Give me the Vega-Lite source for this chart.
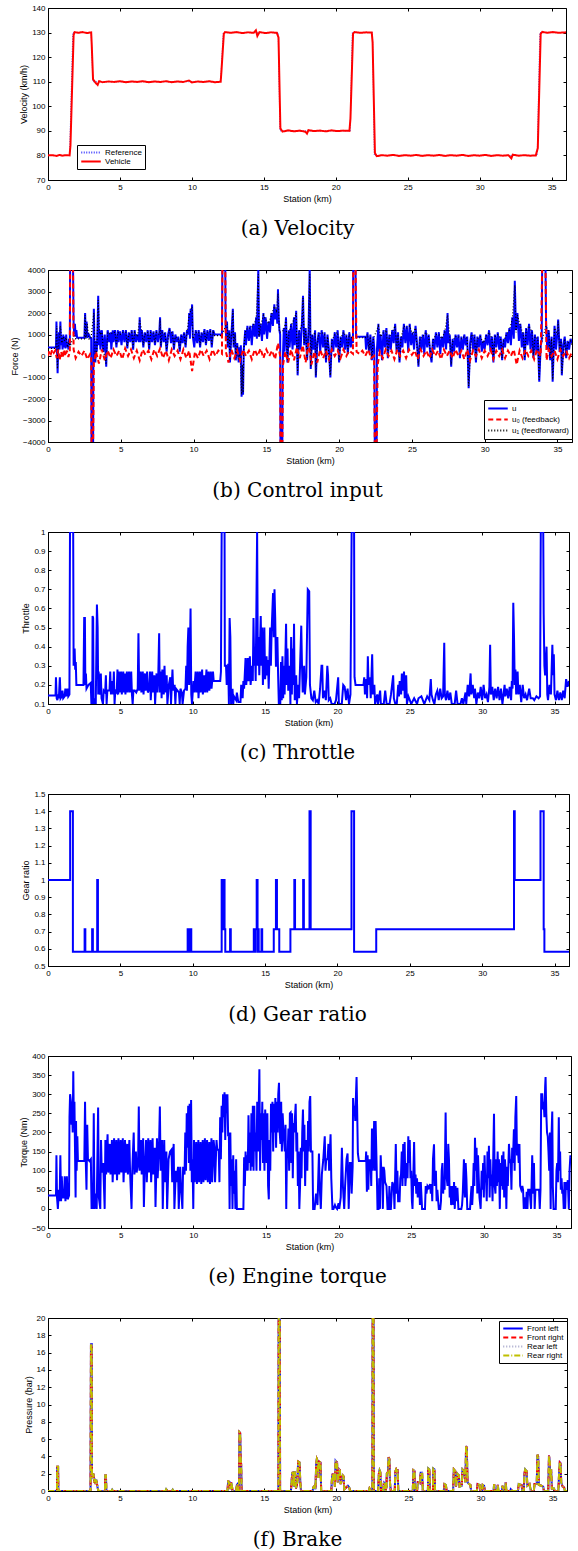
{
"$schema": "https://vega.github.io/schema/vega-lite/v6.json",
"background": "white",
"padding": {"left": 10, "top": 3, "right": 0, "bottom": 0},
"columns": 1,
"spacing": 25,
"resolve": {"scale": {"color": "independent", "strokeDash": "independent"}},
"config": {
  "view": {"stroke": "black", "strokeWidth": 1},
  "axis": {"grid": false, "labelFont": "Liberation Sans", "labelFontSize": 8, "labelColor": "black", "titleFont": "Liberation Sans", "titleFontSize": 9, "titleFontWeight": "normal", "titleColor": "black", "tickColor": "black", "tickSize": -3, "tickWidth": 1, "domainColor": "black", "domainWidth": 1, "labelPadding": 6, "titlePadding": 3, "labelFlush": false, "labelOverlap": false, "labelBound": false},
  "legend": {"orient": "none", "fillColor": "white", "strokeColor": "black", "padding": 3, "labelFont": "Liberation Sans", "labelFontSize": 8, "labelColor": "black", "symbolType": "stroke", "symbolSize": 380, "symbolStrokeWidth": 1.8, "rowPadding": 0, "labelOffset": 3, "clipHeight": 9},
  "title": {"orient": "bottom", "anchor": "middle", "font": "DejaVu Serif", "fontSize": 20, "fontWeight": "normal", "color": "black", "offset": 16, "frame": "group"}
},
"concat": [
{
 "width": 518, "height": 172,
 "title": {"text": "(a) Velocity", "orient": "bottom", "dx": -9.5},
 "layer": [
  {"data": {"name": "vref"}, "mark": {"type": "line", "opacity": 0},
   "encoding": {
    "x": {"field": "s", "type": "quantitative", "scale": {"domain": [0,36], "nice": false, "zero": false}, "axis": {"orient": "top", "labels": false, "title": null, "domain": false, "values": [0,5,10,15,20,25,30,35]}},
    "y": {"field": "v", "type": "quantitative", "scale": {"domain": [70,140], "nice": false, "zero": false}, "axis": {"orient": "right", "labels": false, "title": null, "domain": false, "values": [70,80,90,100,110,120,130,140]}}}},
  {"data": {"name": "vref"}, "mark": {"type": "line", "strokeWidth": 1, "clip": true},
   "encoding": {
    "x": {"field": "s", "type": "quantitative", "scale": {"domain": [0,36], "nice": false, "zero": false}, "axis": {"orient": "bottom", "title": "Station (km)", "values": [0,5,10,15,20,25,30,35]}},
    "y": {"field": "v", "type": "quantitative", "scale": {"domain": [70,140], "nice": false, "zero": false}, "axis": {"orient": "left", "title": "Velocity (km/h)", "format": "~f", "values": [70,80,90,100,110,120,130,140]}},
    "color": {"datum": "Reference", "type": "nominal", "scale": {"domain": ["Reference","Vehicle"], "range": ["#3b3bff","#ff0000"]}, "legend": {"title": null, "legendX": 29, "legendY": 137}},
    "strokeDash": {"datum": "Reference", "type": "nominal", "scale": {"domain": ["Reference","Vehicle"], "range": [[1,1.5],[1,0]]}, "legend": {"title": null, "legendX": 29, "legendY": 137}}}},
  {"data": {"name": "veh"}, "mark": {"type": "line", "strokeWidth": 2, "clip": true},
   "encoding": {
    "x": {"field": "s", "type": "quantitative", "scale": {"domain": [0,36], "nice": false, "zero": false}, "axis": null},
    "y": {"field": "v", "type": "quantitative", "scale": {"domain": [70,140], "nice": false, "zero": false}, "axis": null},
    "color": {"datum": "Vehicle", "type": "nominal"},
    "strokeDash": {"datum": "Vehicle", "type": "nominal"}}}
 ],
 "resolve": {"axis": {"x": "independent", "y": "independent"}}
},
{
 "width": 524, "height": 172,
 "title": {"text": "(b) Control input", "orient": "bottom", "dx": -12.5},
 "layer": [
  {"data": {"name": "u"}, "mark": {"type": "line", "opacity": 0},
   "encoding": {
    "x": {"field": "s", "type": "quantitative", "scale": {"domain": [0,36], "nice": false, "zero": false}, "axis": {"orient": "top", "labels": false, "title": null, "domain": false, "values": [0,5,10,15,20,25,30,35]}},
    "y": {"field": "v", "type": "quantitative", "scale": {"domain": [-4000,4000], "nice": false, "zero": false}, "axis": {"orient": "right", "labels": false, "title": null, "domain": false, "values": [-4000,-3000,-2000,-1000,0,1000,2000,3000,4000]}}}},
  {"data": {"name": "u"}, "mark": {"type": "line", "strokeWidth": 2, "clip": true},
   "encoding": {
    "x": {"field": "s", "type": "quantitative", "scale": {"domain": [0,36], "nice": false, "zero": false}, "axis": {"orient": "bottom", "title": "Station (km)", "values": [0,5,10,15,20,25,30,35]}},
    "y": {"field": "v", "type": "quantitative", "scale": {"domain": [-4000,4000], "nice": false, "zero": false}, "axis": {"orient": "left", "title": "Force (N)", "format": "~f", "values": [-4000,-3000,-2000,-1000,0,1000,2000,3000,4000]}},
    "color": {"datum": "u", "type": "nominal", "scale": {"domain": ["u","u₀ (feedback)","u₁ (feedforward)"], "range": ["#0000ff","#ff0000","#000000"]}, "legend": {"title": null, "legendX": 436, "legendY": 130, "clipHeight": 11}},
    "strokeDash": {"datum": "u", "type": "nominal", "scale": {"domain": ["u","u₀ (feedback)","u₁ (feedforward)"], "range": [[1,0],[5,3],[1,2]]}, "legend": {"title": null, "legendX": 436, "legendY": 130, "clipHeight": 11}}}},
  {"data": {"name": "u1"}, "mark": {"type": "line", "strokeWidth": 1.2, "clip": true},
   "encoding": {
    "x": {"field": "s", "type": "quantitative", "scale": {"domain": [0,36], "nice": false, "zero": false}, "axis": null},
    "y": {"field": "v", "type": "quantitative", "scale": {"domain": [-4000,4000], "nice": false, "zero": false}, "axis": null},
    "color": {"datum": "u₁ (feedforward)", "type": "nominal"},
    "strokeDash": {"datum": "u₁ (feedforward)", "type": "nominal"}}},
  {"data": {"name": "u0"}, "mark": {"type": "line", "strokeWidth": 2, "clip": true},
   "encoding": {
    "x": {"field": "s", "type": "quantitative", "scale": {"domain": [0,36], "nice": false, "zero": false}, "axis": null},
    "y": {"field": "v", "type": "quantitative", "scale": {"domain": [-4000,4000], "nice": false, "zero": false}, "axis": null},
    "color": {"datum": "u₀ (feedback)", "type": "nominal"},
    "strokeDash": {"datum": "u₀ (feedback)", "type": "nominal"}}}
 ],
 "resolve": {"axis": {"x": "independent", "y": "independent"}}
},
{
 "width": 521, "height": 172,
 "title": {"text": "(c) Throttle", "orient": "bottom", "dx": -11},
 "layer": [
  {"data": {"name": "thr"}, "mark": {"type": "line", "opacity": 0},
   "encoding": {
    "x": {"field": "s", "type": "quantitative", "scale": {"domain": [0,36], "nice": false, "zero": false}, "axis": {"orient": "top", "labels": false, "title": null, "domain": false, "values": [0,5,10,15,20,25,30,35]}},
    "y": {"field": "v", "type": "quantitative", "scale": {"domain": [0.1,1], "nice": false, "zero": false}, "axis": {"orient": "right", "labels": false, "title": null, "domain": false, "values": [0.1,0.2,0.3,0.4,0.5,0.6,0.7,0.8,0.9,1]}}}},
  {"data": {"name": "thr"}, "mark": {"type": "line", "strokeWidth": 2, "color": "#0000ff", "clip": true},
   "encoding": {
    "x": {"field": "s", "type": "quantitative", "scale": {"domain": [0,36], "nice": false, "zero": false}, "axis": {"orient": "bottom", "title": "Station (km)", "values": [0,5,10,15,20,25,30,35]}},
    "y": {"field": "v", "type": "quantitative", "scale": {"domain": [0.1,1], "nice": false, "zero": false}, "axis": {"orient": "left", "title": "Throttle", "format": "~f", "values": [0.1,0.2,0.3,0.4,0.5,0.6,0.7,0.8,0.9,1]}}}}
 ],
 "resolve": {"axis": {"x": "independent", "y": "independent"}}
},
{
 "width": 521, "height": 172,
 "title": {"text": "(d) Gear ratio", "orient": "bottom", "dx": -11},
 "layer": [
  {"data": {"name": "gear"}, "mark": {"type": "line", "opacity": 0},
   "encoding": {
    "x": {"field": "s", "type": "quantitative", "scale": {"domain": [0,36], "nice": false, "zero": false}, "axis": {"orient": "top", "labels": false, "title": null, "domain": false, "values": [0,5,10,15,20,25,30,35]}},
    "y": {"field": "v", "type": "quantitative", "scale": {"domain": [0.5,1.5], "nice": false, "zero": false}, "axis": {"orient": "right", "labels": false, "title": null, "domain": false, "values": [0.5,0.6,0.7,0.8,0.9,1,1.1,1.2,1.3,1.4,1.5]}}}},
  {"data": {"name": "gear"}, "mark": {"type": "line", "strokeWidth": 2, "color": "#0000ff", "interpolate": "step-after", "clip": true},
   "encoding": {
    "x": {"field": "s", "type": "quantitative", "scale": {"domain": [0,36], "nice": false, "zero": false}, "axis": {"orient": "bottom", "title": "Station (km)", "values": [0,5,10,15,20,25,30,35]}},
    "y": {"field": "v", "type": "quantitative", "scale": {"domain": [0.5,1.5], "nice": false, "zero": false}, "axis": {"orient": "left", "title": "Gear ratio", "format": "~f", "values": [0.5,0.6,0.7,0.8,0.9,1,1.1,1.2,1.3,1.4,1.5]}}}}
 ],
 "resolve": {"axis": {"x": "independent", "y": "independent"}}
},
{
 "width": 523, "height": 172,
 "title": {"text": "(e) Engine torque", "orient": "bottom", "dx": -12},
 "layer": [
  {"data": {"name": "tq"}, "mark": {"type": "line", "opacity": 0},
   "encoding": {
    "x": {"field": "s", "type": "quantitative", "scale": {"domain": [0,36], "nice": false, "zero": false}, "axis": {"orient": "top", "labels": false, "title": null, "domain": false, "values": [0,5,10,15,20,25,30,35]}},
    "y": {"field": "v", "type": "quantitative", "scale": {"domain": [-50,400], "nice": false, "zero": false}, "axis": {"orient": "right", "labels": false, "title": null, "domain": false, "values": [-50,0,50,100,150,200,250,300,350,400]}}}},
  {"data": {"name": "tq"}, "mark": {"type": "line", "strokeWidth": 2, "color": "#0000ff", "clip": true},
   "encoding": {
    "x": {"field": "s", "type": "quantitative", "scale": {"domain": [0,36], "nice": false, "zero": false}, "axis": {"orient": "bottom", "title": "Station (km)", "values": [0,5,10,15,20,25,30,35]}},
    "y": {"field": "v", "type": "quantitative", "scale": {"domain": [-50,400], "nice": false, "zero": false}, "axis": {"orient": "left", "title": "Torque (Nm)", "format": "~f", "values": [-50,0,50,100,150,200,250,300,350,400]}}}}
 ],
 "resolve": {"axis": {"x": "independent", "y": "independent"}}
},
{
 "width": 519, "height": 173,
 "title": {"text": "(f) Brake", "orient": "bottom", "dx": -10},
 "layer": [
  {"data": {"name": "brk"}, "mark": {"type": "line", "opacity": 0},
   "encoding": {
    "x": {"field": "s", "type": "quantitative", "scale": {"domain": [0,36], "nice": false, "zero": false}, "axis": {"orient": "top", "labels": false, "title": null, "domain": false, "values": [0,5,10,15,20,25,30,35]}},
    "y": {"field": "v", "type": "quantitative", "scale": {"domain": [0,20], "nice": false, "zero": false}, "axis": {"orient": "right", "labels": false, "title": null, "domain": false, "values": [0,2,4,6,8,10,12,14,16,18,20]}}}},
  {"data": {"name": "brk"}, "mark": {"type": "line", "strokeWidth": 2, "clip": true},
   "encoding": {
    "x": {"field": "s", "type": "quantitative", "scale": {"domain": [0,36], "nice": false, "zero": false}, "axis": {"orient": "bottom", "title": "Station (km)", "values": [0,5,10,15,20,25,30,35]}},
    "y": {"field": "v", "type": "quantitative", "scale": {"domain": [0,20], "nice": false, "zero": false}, "axis": {"orient": "left", "title": "Pressure (bar)", "format": "~f", "values": [0,2,4,6,8,10,12,14,16,18,20]}},
    "color": {"datum": "Front left", "type": "nominal", "scale": {"domain": ["Front left","Front right","Rear left","Rear right"], "range": ["#0000ff","#ff0000","#a3a3c8","#bfbf00"]}, "legend": {"title": null, "legendX": 451, "legendY": 3}},
    "strokeDash": {"datum": "Front left", "type": "nominal", "scale": {"domain": ["Front left","Front right","Rear left","Rear right"], "range": [[1,0],[5,3],[1,2],[6,2,1,2]]}, "legend": {"title": null, "legendX": 451, "legendY": 3}}}},
  {"data": {"name": "brk"}, "mark": {"type": "line", "strokeWidth": 2, "clip": true},
   "encoding": {
    "x": {"field": "s", "type": "quantitative", "scale": {"domain": [0,36], "nice": false, "zero": false}, "axis": null},
    "y": {"field": "v", "type": "quantitative", "scale": {"domain": [0,20], "nice": false, "zero": false}, "axis": null},
    "color": {"datum": "Front right", "type": "nominal"},
    "strokeDash": {"datum": "Front right", "type": "nominal"}}},
  {"data": {"name": "brk"}, "mark": {"type": "line", "strokeWidth": 1.5, "clip": true},
   "encoding": {
    "x": {"field": "s", "type": "quantitative", "scale": {"domain": [0,36], "nice": false, "zero": false}, "axis": null},
    "y": {"field": "v", "type": "quantitative", "scale": {"domain": [0,20], "nice": false, "zero": false}, "axis": null},
    "color": {"datum": "Rear left", "type": "nominal"},
    "strokeDash": {"datum": "Rear left", "type": "nominal"}}},
  {"data": {"name": "brk"}, "mark": {"type": "line", "strokeWidth": 2, "clip": true},
   "encoding": {
    "x": {"field": "s", "type": "quantitative", "scale": {"domain": [0,36], "nice": false, "zero": false}, "axis": null},
    "y": {"field": "v", "type": "quantitative", "scale": {"domain": [0,20], "nice": false, "zero": false}, "axis": null},
    "color": {"datum": "Rear right", "type": "nominal"},
    "strokeDash": {"datum": "Rear right", "type": "nominal"}}}
 ],
 "resolve": {"axis": {"x": "independent", "y": "independent"}}
}
],
"datasets": {
"vref": [{"s":0,"v":80},{"s":1.5,"v":80},{"s":1.72,"v":130},{"s":3.0,"v":130},{"s":3.12,"v":110},{"s":12.0,"v":110},{"s":12.18,"v":130},{"s":16.0,"v":130},{"s":16.12,"v":90},{"s":21.0,"v":90},{"s":21.15,"v":130},{"s":22.55,"v":130},{"s":22.68,"v":80},{"s":34.0,"v":80},{"s":34.18,"v":130},{"s":36,"v":130}],
"veh": [{"s":0,"v":80},{"s":0.3,"v":80.1},{"s":0.6,"v":79.8},{"s":0.8,"v":80.2},{"s":1.0,"v":79.9},{"s":1.2,"v":80.1},{"s":1.5,"v":80},{"s":1.56,"v":84},{"s":1.78,"v":129},{"s":1.85,"v":130.2},{"s":2.1,"v":129.9},{"s":2.4,"v":130.2},{"s":2.7,"v":129.8},{"s":3.0,"v":130.1},{"s":3.04,"v":125},{"s":3.13,"v":111},{"s":3.3,"v":109.6},{"s":3.45,"v":108.7},{"s":3.55,"v":110.2},{"s":3.8,"v":109.8},{"s":4.2,"v":110.1},{"s":4.6,"v":109.9},{"s":5.0,"v":110.2},{"s":5.4,"v":109.8},{"s":5.8,"v":110.1},{"s":6.2,"v":109.9},{"s":6.6,"v":110.2},{"s":7.0,"v":109.8},{"s":7.4,"v":110.1},{"s":7.8,"v":109.9},{"s":8.2,"v":110.2},{"s":8.6,"v":109.8},{"s":9.0,"v":110.1},{"s":9.4,"v":109.9},{"s":9.8,"v":110.5},{"s":10.0,"v":109.7},{"s":10.4,"v":110.1},{"s":10.8,"v":109.9},{"s":11.2,"v":110.2},{"s":11.6,"v":109.8},{"s":12.0,"v":110},{"s":12.05,"v":114},{"s":12.22,"v":129.5},{"s":12.3,"v":130.2},{"s":12.7,"v":129.9},{"s":13.1,"v":130.2},{"s":13.5,"v":129.8},{"s":13.9,"v":130.1},{"s":14.3,"v":129.9},{"s":14.45,"v":130.9},{"s":14.55,"v":128.6},{"s":14.7,"v":130.2},{"s":15.1,"v":129.8},{"s":15.5,"v":130.1},{"s":15.9,"v":129.9},{"s":16.02,"v":128},{"s":16.15,"v":91},{"s":16.3,"v":89.7},{"s":16.7,"v":90.2},{"s":17.1,"v":89.8},{"s":17.5,"v":90.1},{"s":17.9,"v":89.6},{"s":18.0,"v":88.9},{"s":18.1,"v":90.3},{"s":18.5,"v":89.9},{"s":18.9,"v":90.1},{"s":19.3,"v":89.8},{"s":19.7,"v":90.2},{"s":20.1,"v":89.9},{"s":20.5,"v":90.1},{"s":20.95,"v":90},{"s":21.02,"v":95},{"s":21.2,"v":129.6},{"s":21.3,"v":130.2},{"s":21.7,"v":129.9},{"s":22.1,"v":130.1},{"s":22.5,"v":130},{"s":22.56,"v":126},{"s":22.72,"v":81},{"s":22.85,"v":79.7},{"s":23.2,"v":80.1},{"s":23.6,"v":79.9},{"s":24.0,"v":80.2},{"s":24.4,"v":79.8},{"s":24.8,"v":80.1},{"s":25.2,"v":79.9},{"s":25.6,"v":80.2},{"s":26.0,"v":79.8},{"s":26.4,"v":80.1},{"s":26.8,"v":79.9},{"s":27.2,"v":80.2},{"s":27.6,"v":79.8},{"s":28.0,"v":80.1},{"s":28.4,"v":79.9},{"s":28.8,"v":80.2},{"s":29.2,"v":79.8},{"s":29.6,"v":80.1},{"s":30.0,"v":79.9},{"s":30.4,"v":80.2},{"s":30.8,"v":79.8},{"s":31.2,"v":80.1},{"s":31.6,"v":79.9},{"s":32.0,"v":80.1},{"s":32.2,"v":78.8},{"s":32.3,"v":80.3},{"s":32.7,"v":79.9},{"s":33.1,"v":80.1},{"s":33.5,"v":79.9},{"s":33.9,"v":80},{"s":34.04,"v":83},{"s":34.24,"v":129.5},{"s":34.35,"v":130.3},{"s":34.7,"v":129.9},{"s":35.1,"v":130.2},{"s":35.5,"v":129.9},{"s":36,"v":130.1}],
"u": [{"s":0,"v":400},{"s":0.55,"v":400},{"s":0.58,"v":1600},{"s":0.62,"v":300},{"s":0.66,"v":-800},{"s":0.7,"v":400},{"s":0.75,"v":1100},{"s":0.8,"v":300},{"s":0.85,"v":1600},{"s":0.9,"v":500},{"s":0.95,"v":900},{"s":1.0,"v":300},{"s":1.05,"v":1000},{"s":1.1,"v":400},{"s":1.15,"v":900},{"s":1.2,"v":350},{"s":1.25,"v":1000},{"s":1.3,"v":400},{"s":1.35,"v":600},{"s":1.4,"v":300},{"s":1.45,"v":800},{"s":1.5,"v":500},{"s":1.52,"v":4150},{"s":1.72,"v":4150},{"s":1.76,"v":1500},{"s":1.8,"v":1000},{"s":1.85,"v":1500},{"s":1.9,"v":900},{"s":1.95,"v":1200},{"s":2.0,"v":850},{"s":2.5,"v":850},{"s":2.55,"v":2000},{"s":2.6,"v":850},{"s":2.65,"v":1600},{"s":2.7,"v":850},{"s":2.8,"v":1000},{"s":2.9,"v":850},{"s":2.97,"v":800},{"s":2.99,"v":-4150},{"s":3.1,"v":-4150},{"s":3.12,"v":200},{"s":3.15,"v":2200},{"s":3.2,"v":300},{"s":3.25,"v":-300},{"s":3.3,"v":700},{"s":3.35,"v":200},{"s":3.4,"v":1200},{"s":3.45,"v":2800},{"s":3.5,"v":500},{"s":3.55,"v":1200},{"s":3.6,"v":300},{"s":3.7,"v":1200},{"s":3.75,"v":600},{"s":3.8,"v":200},{"s":3.9,"v":1000},{"s":4.0,"v":-500},{"s":4.05,"v":700},{"s":4.1,"v":1200},{"s":4.2,"v":650},{"s":4.3,"v":1100},{"s":4.35,"v":300},{"s":4.45,"v":1200},{"s":4.5,"v":650},{"s":4.6,"v":1200},{"s":4.7,"v":400},{"s":4.8,"v":1200},{"s":4.85,"v":650},{"s":4.95,"v":1150},{"s":5.05,"v":500},{"s":5.15,"v":1200},{"s":5.25,"v":650},{"s":5.35,"v":1200},{"s":5.45,"v":350},{"s":5.55,"v":1100},{"s":5.65,"v":650},{"s":5.75,"v":1200},{"s":5.85,"v":300},{"s":5.95,"v":1200},{"s":6.05,"v":650},{"s":6.15,"v":1000},{"s":6.25,"v":650},{"s":6.3,"v":1800},{"s":6.35,"v":650},{"s":6.45,"v":1200},{"s":6.55,"v":400},{"s":6.65,"v":1100},{"s":6.75,"v":650},{"s":6.85,"v":1200},{"s":6.95,"v":300},{"s":7.05,"v":1200},{"s":7.15,"v":650},{"s":7.25,"v":1150},{"s":7.35,"v":500},{"s":7.45,"v":1200},{"s":7.55,"v":650},{"s":7.65,"v":1100},{"s":7.7,"v":1800},{"s":7.75,"v":400},{"s":7.85,"v":1200},{"s":7.95,"v":650},{"s":8.05,"v":1100},{"s":8.15,"v":200},{"s":8.25,"v":1000},{"s":8.35,"v":1300},{"s":8.45,"v":600},{"s":8.55,"v":1150},{"s":8.65,"v":300},{"s":8.75,"v":1000},{"s":8.85,"v":650},{"s":8.95,"v":900},{"s":9.05,"v":200},{"s":9.15,"v":1000},{"s":9.25,"v":600},{"s":9.35,"v":1100},{"s":9.45,"v":400},{"s":9.55,"v":1200},{"s":9.65,"v":1000},{"s":9.7,"v":2000},{"s":9.75,"v":800},{"s":9.8,"v":2200},{"s":9.85,"v":1400},{"s":9.9,"v":2400},{"s":9.95,"v":900},{"s":10.05,"v":400},{"s":10.15,"v":1200},{"s":10.25,"v":600},{"s":10.35,"v":1200},{"s":10.45,"v":400},{"s":10.55,"v":1100},{"s":10.65,"v":650},{"s":10.75,"v":1250},{"s":10.85,"v":500},{"s":10.95,"v":1200},{"s":11.05,"v":700},{"s":11.15,"v":1250},{"s":11.25,"v":400},{"s":11.35,"v":1200},{"s":11.45,"v":1000},{"s":11.95,"v":1000},{"s":11.98,"v":4150},{"s":12.18,"v":4150},{"s":12.2,"v":1500},{"s":12.25,"v":700},{"s":12.3,"v":1600},{"s":12.35,"v":400},{"s":12.45,"v":1200},{"s":12.5,"v":-300},{"s":12.6,"v":1000},{"s":12.7,"v":2200},{"s":12.75,"v":400},{"s":12.85,"v":1100},{"s":12.9,"v":-200},{"s":13.0,"v":600},{"s":13.1,"v":-300},{"s":13.15,"v":400},{"s":13.2,"v":0},{"s":13.25,"v":500},{"s":13.3,"v":-1900},{"s":13.35,"v":-500},{"s":13.4,"v":-1800},{"s":13.45,"v":300},{"s":13.55,"v":1200},{"s":13.6,"v":500},{"s":13.7,"v":1400},{"s":13.8,"v":700},{"s":13.9,"v":1400},{"s":14.0,"v":500},{"s":14.1,"v":1500},{"s":14.2,"v":900},{"s":14.3,"v":1800},{"s":14.35,"v":800},{"s":14.45,"v":4100},{"s":14.5,"v":900},{"s":14.6,"v":1500},{"s":14.7,"v":700},{"s":14.8,"v":2000},{"s":14.85,"v":1000},{"s":14.95,"v":1800},{"s":15.05,"v":800},{"s":15.15,"v":1600},{"s":15.25,"v":1100},{"s":15.35,"v":2000},{"s":15.45,"v":1400},{"s":15.55,"v":2400},{"s":15.6,"v":1700},{"s":15.7,"v":2200},{"s":15.75,"v":1500},{"s":15.8,"v":3100},{"s":15.85,"v":1800},{"s":15.9,"v":1200},{"s":15.95,"v":1000},{"s":15.97,"v":-4150},{"s":16.1,"v":-4150},{"s":16.12,"v":-500},{"s":16.2,"v":1300},{"s":16.25,"v":200},{"s":16.35,"v":1800},{"s":16.45,"v":-300},{"s":16.55,"v":1200},{"s":16.6,"v":400},{"s":16.7,"v":1500},{"s":16.8,"v":300},{"s":16.9,"v":1800},{"s":16.95,"v":500},{"s":17.05,"v":2100},{"s":17.15,"v":-900},{"s":17.25,"v":1200},{"s":17.35,"v":300},{"s":17.45,"v":1600},{"s":17.52,"v":2800},{"s":17.6,"v":500},{"s":17.7,"v":1300},{"s":17.8,"v":-200},{"s":17.9,"v":1200},{"s":17.98,"v":4100},{"s":18.05,"v":-600},{"s":18.15,"v":1000},{"s":18.25,"v":300},{"s":18.35,"v":1200},{"s":18.4,"v":-1000},{"s":18.5,"v":600},{"s":18.6,"v":1100},{"s":18.7,"v":200},{"s":18.8,"v":1200},{"s":18.9,"v":400},{"s":19.0,"v":1100},{"s":19.1,"v":-300},{"s":19.2,"v":1000},{"s":19.3,"v":300},{"s":19.4,"v":-1000},{"s":19.5,"v":800},{"s":19.6,"v":200},{"s":19.7,"v":1100},{"s":19.8,"v":400},{"s":19.9,"v":1200},{"s":20.0,"v":-300},{"s":20.1,"v":900},{"s":20.2,"v":400},{"s":20.3,"v":1200},{"s":20.4,"v":300},{"s":20.5,"v":1000},{"s":20.6,"v":100},{"s":20.7,"v":1100},{"s":20.8,"v":400},{"s":20.9,"v":900},{"s":20.95,"v":600},{"s":20.97,"v":4150},{"s":21.13,"v":4150},{"s":21.16,"v":900},{"s":21.8,"v":900},{"s":21.85,"v":300},{"s":21.95,"v":1100},{"s":22.05,"v":200},{"s":22.15,"v":1000},{"s":22.25,"v":-200},{"s":22.35,"v":900},{"s":22.42,"v":300},{"s":22.45,"v":-4150},{"s":22.58,"v":-4150},{"s":22.6,"v":300},{"s":22.7,"v":1500},{"s":22.75,"v":200},{"s":22.85,"v":1000},{"s":22.95,"v":-200},{"s":23.05,"v":1200},{"s":23.15,"v":400},{"s":23.25,"v":1300},{"s":23.35,"v":-100},{"s":23.45,"v":1000},{"s":23.55,"v":300},{"s":23.65,"v":1200},{"s":23.75,"v":600},{"s":23.85,"v":1500},{"s":23.95,"v":200},{"s":24.05,"v":1100},{"s":24.15,"v":-300},{"s":24.25,"v":900},{"s":24.35,"v":400},{"s":24.45,"v":1500},{"s":24.55,"v":600},{"s":24.65,"v":1400},{"s":24.75,"v":200},{"s":24.85,"v":1500},{"s":24.95,"v":500},{"s":25.05,"v":1100},{"s":25.15,"v":300},{"s":25.25,"v":1400},{"s":25.35,"v":600},{"s":25.45,"v":-500},{"s":25.55,"v":900},{"s":25.65,"v":300},{"s":25.75,"v":1000},{"s":25.85,"v":100},{"s":25.95,"v":1200},{"s":26.05,"v":400},{"s":26.15,"v":1000},{"s":26.25,"v":200},{"s":26.35,"v":-300},{"s":26.45,"v":800},{"s":26.55,"v":300},{"s":26.65,"v":1100},{"s":26.75,"v":400},{"s":26.85,"v":1100},{"s":26.95,"v":100},{"s":27.05,"v":900},{"s":27.15,"v":400},{"s":27.25,"v":1200},{"s":27.35,"v":300},{"s":27.45,"v":2000},{"s":27.5,"v":600},{"s":27.6,"v":1000},{"s":27.7,"v":-500},{"s":27.8,"v":800},{"s":27.9,"v":200},{"s":28.0,"v":1000},{"s":28.1,"v":400},{"s":28.2,"v":1000},{"s":28.3,"v":-100},{"s":28.4,"v":900},{"s":28.5,"v":300},{"s":28.6,"v":1000},{"s":28.7,"v":500},{"s":28.8,"v":900},{"s":28.9,"v":-1500},{"s":29.0,"v":600},{"s":29.1,"v":1100},{"s":29.2,"v":300},{"s":29.3,"v":1000},{"s":29.4,"v":-300},{"s":29.5,"v":900},{"s":29.6,"v":400},{"s":29.7,"v":1000},{"s":29.8,"v":200},{"s":29.9,"v":700},{"s":30.0,"v":300},{"s":30.1,"v":1000},{"s":30.2,"v":500},{"s":30.3,"v":1200},{"s":30.4,"v":200},{"s":30.5,"v":900},{"s":30.6,"v":-300},{"s":30.7,"v":1000},{"s":30.8,"v":400},{"s":30.9,"v":1100},{"s":31.0,"v":300},{"s":31.1,"v":900},{"s":31.2,"v":-200},{"s":31.3,"v":800},{"s":31.4,"v":400},{"s":31.5,"v":1100},{"s":31.6,"v":600},{"s":31.7,"v":1300},{"s":31.8,"v":500},{"s":31.9,"v":1800},{"s":32.0,"v":800},{"s":32.07,"v":3500},{"s":32.15,"v":1200},{"s":32.25,"v":2000},{"s":32.35,"v":700},{"s":32.45,"v":1500},{"s":32.55,"v":400},{"s":32.65,"v":1100},{"s":32.75,"v":-200},{"s":32.85,"v":1300},{"s":32.95,"v":500},{"s":33.05,"v":1500},{"s":33.15,"v":300},{"s":33.25,"v":1200},{"s":33.35,"v":-100},{"s":33.45,"v":1000},{"s":33.55,"v":200},{"s":33.65,"v":900},{"s":33.75,"v":-1200},{"s":33.85,"v":500},{"s":33.92,"v":700},{"s":33.95,"v":4150},{"s":34.18,"v":4150},{"s":34.22,"v":1500},{"s":34.3,"v":300},{"s":34.4,"v":1200},{"s":34.5,"v":-200},{"s":34.6,"v":900},{"s":34.67,"v":-1200},{"s":34.75,"v":400},{"s":34.8,"v":1400},{"s":34.9,"v":300},{"s":35.0,"v":1100},{"s":35.05,"v":1700},{"s":35.15,"v":200},{"s":35.25,"v":800},{"s":35.3,"v":-900},{"s":35.4,"v":500},{"s":35.5,"v":900},{"s":35.6,"v":-100},{"s":35.7,"v":700},{"s":35.8,"v":300},{"s":35.9,"v":800},{"s":36,"v":600}],
"u0": [{"s":0,"v":0},{"s":0.1,"v":250},{"s":0.2,"v":100},{"s":0.3,"v":300},{"s":0.4,"v":150},{"s":0.5,"v":250},{"s":0.6,"v":-100},{"s":0.7,"v":300},{"s":0.8,"v":-200},{"s":0.9,"v":200},{"s":1.0,"v":-100},{"s":1.1,"v":300},{"s":1.2,"v":0},{"s":1.3,"v":250},{"s":1.4,"v":-50},{"s":1.5,"v":200},{"s":1.52,"v":4150},{"s":1.72,"v":4150},{"s":1.76,"v":300},{"s":1.9,"v":-100},{"s":2.1,"v":200},{"s":2.3,"v":0},{"s":2.5,"v":250},{"s":2.7,"v":-150},{"s":2.9,"v":100},{"s":2.97,"v":0},{"s":2.99,"v":-4150},{"s":3.1,"v":-4150},{"s":3.15,"v":-300},{"s":3.3,"v":200},{"s":3.5,"v":-350},{"s":3.7,"v":300},{"s":3.9,"v":-200},{"s":4.1,"v":250},{"s":4.3,"v":-100},{"s":4.5,"v":300},{"s":4.7,"v":0},{"s":4.9,"v":250},{"s":5.1,"v":-150},{"s":5.3,"v":350},{"s":5.5,"v":0},{"s":5.7,"v":300},{"s":5.9,"v":-100},{"s":6.1,"v":250},{"s":6.3,"v":-200},{"s":6.5,"v":300},{"s":6.7,"v":50},{"s":6.9,"v":250},{"s":7.1,"v":-150},{"s":7.3,"v":300},{"s":7.5,"v":0},{"s":7.7,"v":350},{"s":7.9,"v":-100},{"s":8.1,"v":250},{"s":8.3,"v":-200},{"s":8.5,"v":300},{"s":8.7,"v":0},{"s":8.9,"v":250},{"s":9.1,"v":-150},{"s":9.3,"v":300},{"s":9.5,"v":-100},{"s":9.7,"v":250},{"s":9.9,"v":-700},{"s":10.1,"v":200},{"s":10.3,"v":-100},{"s":10.5,"v":300},{"s":10.7,"v":0},{"s":10.9,"v":250},{"s":11.1,"v":-150},{"s":11.3,"v":300},{"s":11.5,"v":0},{"s":11.7,"v":250},{"s":11.95,"v":100},{"s":11.98,"v":4150},{"s":12.18,"v":4150},{"s":12.22,"v":200},{"s":12.4,"v":-300},{"s":12.6,"v":300},{"s":12.8,"v":-100},{"s":13.0,"v":250},{"s":13.2,"v":-200},{"s":13.4,"v":300},{"s":13.6,"v":0},{"s":13.8,"v":250},{"s":14.0,"v":-150},{"s":14.2,"v":300},{"s":14.4,"v":0},{"s":14.6,"v":350},{"s":14.8,"v":-100},{"s":15.0,"v":300},{"s":15.2,"v":0},{"s":15.4,"v":250},{"s":15.6,"v":-150},{"s":15.8,"v":600},{"s":15.95,"v":0},{"s":15.97,"v":-4150},{"s":16.1,"v":-4150},{"s":16.15,"v":-400},{"s":16.3,"v":200},{"s":16.5,"v":-300},{"s":16.7,"v":300},{"s":16.9,"v":-200},{"s":17.1,"v":400},{"s":17.3,"v":-100},{"s":17.5,"v":500},{"s":17.7,"v":-300},{"s":17.9,"v":600},{"s":18.1,"v":-400},{"s":18.3,"v":200},{"s":18.5,"v":-300},{"s":18.7,"v":300},{"s":18.9,"v":-100},{"s":19.1,"v":250},{"s":19.3,"v":-150},{"s":19.5,"v":300},{"s":19.7,"v":0},{"s":19.9,"v":250},{"s":20.1,"v":-100},{"s":20.3,"v":300},{"s":20.5,"v":0},{"s":20.7,"v":250},{"s":20.95,"v":100},{"s":20.97,"v":4150},{"s":21.13,"v":4150},{"s":21.2,"v":200},{"s":21.4,"v":100},{"s":21.6,"v":250},{"s":21.8,"v":0},{"s":22.0,"v":300},{"s":22.2,"v":-100},{"s":22.4,"v":0},{"s":22.45,"v":-4150},{"s":22.58,"v":-4150},{"s":22.65,"v":-400},{"s":22.8,"v":200},{"s":23.0,"v":-100},{"s":23.2,"v":300},{"s":23.4,"v":0},{"s":23.6,"v":250},{"s":23.8,"v":-150},{"s":24.0,"v":300},{"s":24.2,"v":0},{"s":24.4,"v":250},{"s":24.6,"v":-100},{"s":24.8,"v":300},{"s":25.0,"v":50},{"s":25.2,"v":250},{"s":25.4,"v":-150},{"s":25.6,"v":300},{"s":25.8,"v":0},{"s":26.0,"v":250},{"s":26.2,"v":-100},{"s":26.4,"v":300},{"s":26.6,"v":0},{"s":26.8,"v":250},{"s":27.0,"v":-150},{"s":27.2,"v":300},{"s":27.4,"v":0},{"s":27.6,"v":250},{"s":27.8,"v":-100},{"s":28.0,"v":300},{"s":28.2,"v":0},{"s":28.4,"v":250},{"s":28.6,"v":-150},{"s":28.8,"v":300},{"s":29.0,"v":-200},{"s":29.2,"v":250},{"s":29.4,"v":0},{"s":29.6,"v":300},{"s":29.8,"v":-100},{"s":30.0,"v":250},{"s":30.2,"v":0},{"s":30.4,"v":300},{"s":30.6,"v":-150},{"s":30.8,"v":250},{"s":31.0,"v":0},{"s":31.2,"v":300},{"s":31.4,"v":-100},{"s":31.6,"v":250},{"s":31.8,"v":0},{"s":32.0,"v":300},{"s":32.2,"v":-400},{"s":32.4,"v":250},{"s":32.6,"v":-100},{"s":32.8,"v":300},{"s":33.0,"v":0},{"s":33.2,"v":250},{"s":33.4,"v":-150},{"s":33.6,"v":300},{"s":33.85,"v":0},{"s":33.95,"v":4150},{"s":34.18,"v":4150},{"s":34.25,"v":-200},{"s":34.4,"v":300},{"s":34.6,"v":0},{"s":34.8,"v":250},{"s":35.0,"v":-150},{"s":35.2,"v":300},{"s":35.4,"v":0},{"s":35.6,"v":250},{"s":35.8,"v":-100},{"s":36,"v":200}],
"u1": [{"s":0,"v":350},{"s":0.55,"v":350},{"s":0.6,"v":1400},{"s":0.65,"v":-600},{"s":0.7,"v":300},{"s":0.8,"v":1000},{"s":0.85,"v":1400},{"s":0.95,"v":600},{"s":1.05,"v":900},{"s":1.15,"v":700},{"s":1.25,"v":850},{"s":1.35,"v":400},{"s":1.45,"v":700},{"s":1.5,"v":400},{"s":1.8,"v":1000},{"s":1.9,"v":800},{"s":2.0,"v":800},{"s":2.5,"v":800},{"s":2.55,"v":1900},{"s":2.6,"v":800},{"s":2.7,"v":1500},{"s":2.8,"v":800},{"s":2.95,"v":800},{"s":3.15,"v":2000},{"s":3.25,"v":-200},{"s":3.35,"v":300},{"s":3.45,"v":2600},{"s":3.55,"v":1000},{"s":3.7,"v":1100},{"s":3.8,"v":300},{"s":4.0,"v":-400},{"s":4.1,"v":1100},{"s":4.3,"v":1000},{"s":4.45,"v":1100},{"s":4.6,"v":1100},{"s":4.7,"v":500},{"s":4.8,"v":1100},{"s":4.95,"v":1000},{"s":5.15,"v":1100},{"s":5.35,"v":1100},{"s":5.45,"v":450},{"s":5.55,"v":1000},{"s":5.75,"v":1100},{"s":5.85,"v":400},{"s":5.95,"v":1100},{"s":6.15,"v":900},{"s":6.3,"v":1700},{"s":6.45,"v":1100},{"s":6.55,"v":500},{"s":6.65,"v":1000},{"s":6.85,"v":1100},{"s":6.95,"v":400},{"s":7.05,"v":1100},{"s":7.25,"v":1050},{"s":7.35,"v":600},{"s":7.45,"v":1100},{"s":7.65,"v":1000},{"s":7.7,"v":1700},{"s":7.75,"v":500},{"s":7.85,"v":1100},{"s":8.05,"v":1000},{"s":8.15,"v":300},{"s":8.35,"v":1200},{"s":8.55,"v":1050},{"s":8.65,"v":400},{"s":8.75,"v":900},{"s":8.95,"v":800},{"s":9.05,"v":300},{"s":9.15,"v":900},{"s":9.35,"v":1000},{"s":9.45,"v":500},{"s":9.55,"v":1100},{"s":9.7,"v":1900},{"s":9.8,"v":2100},{"s":9.9,"v":2300},{"s":9.95,"v":800},{"s":10.15,"v":1100},{"s":10.35,"v":1100},{"s":10.45,"v":500},{"s":10.55,"v":1000},{"s":10.75,"v":1150},{"s":10.85,"v":600},{"s":10.95,"v":1100},{"s":11.15,"v":1150},{"s":11.25,"v":500},{"s":11.35,"v":1100},{"s":11.45,"v":950},{"s":11.95,"v":950},{"s":12.2,"v":1400},{"s":12.3,"v":1500},{"s":12.35,"v":500},{"s":12.45,"v":1100},{"s":12.5,"v":-200},{"s":12.6,"v":900},{"s":12.7,"v":2100},{"s":12.75,"v":500},{"s":12.85,"v":1000},{"s":12.9,"v":-100},{"s":13.0,"v":500},{"s":13.1,"v":-200},{"s":13.2,"v":100},{"s":13.3,"v":-1800},{"s":13.35,"v":-400},{"s":13.4,"v":-1700},{"s":13.45,"v":300},{"s":13.55,"v":1100},{"s":13.7,"v":1300},{"s":13.9,"v":1300},{"s":14.1,"v":1400},{"s":14.3,"v":1700},{"s":14.45,"v":3800},{"s":14.5,"v":900},{"s":14.6,"v":1400},{"s":14.8,"v":1900},{"s":14.95,"v":1700},{"s":15.15,"v":1500},{"s":15.35,"v":1900},{"s":15.55,"v":2300},{"s":15.7,"v":2100},{"s":15.8,"v":2900},{"s":15.9,"v":1100},{"s":16.2,"v":1200},{"s":16.35,"v":1700},{"s":16.45,"v":-200},{"s":16.55,"v":1100},{"s":16.7,"v":1400},{"s":16.9,"v":1700},{"s":17.05,"v":2000},{"s":17.15,"v":-800},{"s":17.25,"v":1100},{"s":17.45,"v":1500},{"s":17.52,"v":2700},{"s":17.6,"v":600},{"s":17.7,"v":1200},{"s":17.8,"v":-100},{"s":17.9,"v":1100},{"s":17.98,"v":3800},{"s":18.05,"v":-500},{"s":18.15,"v":900},{"s":18.35,"v":1100},{"s":18.4,"v":-900},{"s":18.5,"v":600},{"s":18.6,"v":1000},{"s":18.8,"v":1100},{"s":19.0,"v":1000},{"s":19.1,"v":-200},{"s":19.2,"v":900},{"s":19.4,"v":-900},{"s":19.5,"v":700},{"s":19.7,"v":1000},{"s":19.9,"v":1100},{"s":20.0,"v":-200},{"s":20.1,"v":800},{"s":20.3,"v":1100},{"s":20.5,"v":900},{"s":20.6,"v":200},{"s":20.7,"v":1000},{"s":20.9,"v":800},{"s":21.16,"v":850},{"s":21.8,"v":850},{"s":21.95,"v":1000},{"s":22.05,"v":300},{"s":22.15,"v":900},{"s":22.25,"v":-100},{"s":22.35,"v":800},{"s":22.7,"v":1400},{"s":22.85,"v":900},{"s":23.05,"v":1100},{"s":23.25,"v":1200},{"s":23.35,"v":0},{"s":23.45,"v":900},{"s":23.65,"v":1100},{"s":23.85,"v":1400},{"s":23.95,"v":300},{"s":24.05,"v":1000},{"s":24.15,"v":-200},{"s":24.25,"v":800},{"s":24.45,"v":1400},{"s":24.65,"v":1300},{"s":24.85,"v":1400},{"s":25.05,"v":1000},{"s":25.25,"v":1300},{"s":25.45,"v":-400},{"s":25.55,"v":800},{"s":25.75,"v":900},{"s":25.95,"v":1100},{"s":26.15,"v":900},{"s":26.35,"v":-200},{"s":26.45,"v":700},{"s":26.65,"v":1000},{"s":26.85,"v":1000},{"s":27.05,"v":800},{"s":27.25,"v":1100},{"s":27.45,"v":1900},{"s":27.6,"v":900},{"s":27.7,"v":-400},{"s":27.8,"v":700},{"s":28.0,"v":900},{"s":28.2,"v":900},{"s":28.4,"v":800},{"s":28.6,"v":900},{"s":28.8,"v":800},{"s":28.9,"v":-1400},{"s":29.1,"v":1000},{"s":29.3,"v":900},{"s":29.4,"v":-200},{"s":29.5,"v":800},{"s":29.7,"v":900},{"s":29.9,"v":600},{"s":30.1,"v":900},{"s":30.3,"v":1100},{"s":30.5,"v":800},{"s":30.6,"v":-200},{"s":30.7,"v":900},{"s":30.9,"v":1000},{"s":31.1,"v":800},{"s":31.2,"v":-100},{"s":31.3,"v":700},{"s":31.5,"v":1000},{"s":31.7,"v":1200},{"s":31.9,"v":1700},{"s":32.07,"v":3300},{"s":32.15,"v":1100},{"s":32.25,"v":1900},{"s":32.45,"v":1400},{"s":32.65,"v":1000},{"s":32.75,"v":-100},{"s":32.85,"v":1200},{"s":33.05,"v":1400},{"s":33.25,"v":1100},{"s":33.35,"v":0},{"s":33.45,"v":900},{"s":33.65,"v":800},{"s":33.75,"v":-1100},{"s":33.85,"v":500},{"s":34.22,"v":1400},{"s":34.4,"v":1100},{"s":34.5,"v":-100},{"s":34.6,"v":800},{"s":34.67,"v":-1100},{"s":34.8,"v":1300},{"s":35.0,"v":1000},{"s":35.05,"v":1600},{"s":35.15,"v":300},{"s":35.25,"v":700},{"s":35.3,"v":-800},{"s":35.5,"v":800},{"s":35.6,"v":0},{"s":35.7,"v":600},{"s":35.9,"v":700},{"s":36,"v":500}],
"thr": [{"s":0,"v":0.145},{"s":0.52,"v":0.145},{"s":0.55,"v":0.24},{"s":0.6,"v":0.13},{"s":0.65,"v":0.12},{"s":0.7,"v":0.15},{"s":0.75,"v":0.13},{"s":0.82,"v":0.24},{"s":0.87,"v":0.13},{"s":0.95,"v":0.14},{"s":1.0,"v":0.17},{"s":1.05,"v":0.13},{"s":1.15,"v":0.14},{"s":1.2,"v":0.18},{"s":1.25,"v":0.14},{"s":1.35,"v":0.18},{"s":1.4,"v":0.14},{"s":1.48,"v":0.15},{"s":1.52,"v":1.0},{"s":1.74,"v":1.0},{"s":1.77,"v":0.3},{"s":1.8,"v":0.36},{"s":1.84,"v":0.39},{"s":1.88,"v":0.28},{"s":1.92,"v":0.32},{"s":1.96,"v":0.2},{"s":2.45,"v":0.2},{"s":2.5,"v":0.55},{"s":2.55,"v":0.55},{"s":2.58,"v":0.2},{"s":2.62,"v":0.26},{"s":2.66,"v":0.18},{"s":2.8,"v":0.2},{"s":2.95,"v":0.21},{"s":3.0,"v":0.1},{"s":3.06,"v":0.1},{"s":3.08,"v":0.56},{"s":3.12,"v":0.55},{"s":3.15,"v":0.1},{"s":3.25,"v":0.12},{"s":3.3,"v":0.1},{"s":3.38,"v":0.62},{"s":3.43,"v":0.5},{"s":3.47,"v":0.15},{"s":3.5,"v":0.27},{"s":3.55,"v":0.16},{"s":3.6,"v":0.15},{"s":3.65,"v":0.26},{"s":3.7,"v":0.13},{"s":3.8,"v":0.1},{"s":3.85,"v":0.17},{"s":3.95,"v":0.16},{"s":4.0,"v":0.25},{"s":4.05,"v":0.1},{"s":4.1,"v":0.17},{"s":4.25,"v":0.17},{"s":4.3,"v":0.27},{"s":4.35,"v":0.15},{"s":4.45,"v":0.22},{"s":4.5,"v":0.15},{"s":4.55,"v":0.27},{"s":4.6,"v":0.1},{"s":4.65,"v":0.17},{"s":4.75,"v":0.16},{"s":4.8,"v":0.28},{"s":4.85,"v":0.15},{"s":4.9,"v":0.27},{"s":4.95,"v":0.16},{"s":5.05,"v":0.27},{"s":5.1,"v":0.15},{"s":5.2,"v":0.27},{"s":5.25,"v":0.16},{"s":5.3,"v":0.26},{"s":5.35,"v":0.15},{"s":5.45,"v":0.27},{"s":5.5,"v":0.16},{"s":5.6,"v":0.27},{"s":5.65,"v":0.16},{"s":5.75,"v":0.27},{"s":5.8,"v":0.15},{"s":5.85,"v":0.1},{"s":5.9,"v":0.17},{"s":6.0,"v":0.17},{"s":6.1,"v":0.16},{"s":6.2,"v":0.18},{"s":6.25,"v":0.47},{"s":6.3,"v":0.17},{"s":6.4,"v":0.27},{"s":6.45,"v":0.16},{"s":6.55,"v":0.27},{"s":6.6,"v":0.15},{"s":6.7,"v":0.26},{"s":6.75,"v":0.17},{"s":6.85,"v":0.27},{"s":6.9,"v":0.16},{"s":7.0,"v":0.18},{"s":7.05,"v":0.27},{"s":7.1,"v":0.12},{"s":7.2,"v":0.27},{"s":7.25,"v":0.16},{"s":7.35,"v":0.25},{"s":7.4,"v":0.1},{"s":7.5,"v":0.26},{"s":7.55,"v":0.16},{"s":7.62,"v":0.25},{"s":7.68,"v":0.47},{"s":7.72,"v":0.16},{"s":7.8,"v":0.27},{"s":7.85,"v":0.13},{"s":7.9,"v":0.28},{"s":8.0,"v":0.15},{"s":8.05,"v":0.3},{"s":8.1,"v":0.16},{"s":8.2,"v":0.25},{"s":8.25,"v":0.1},{"s":8.35,"v":0.2},{"s":8.45,"v":0.24},{"s":8.5,"v":0.1},{"s":8.6,"v":0.28},{"s":8.65,"v":0.17},{"s":8.75,"v":0.2},{"s":8.8,"v":0.1},{"s":8.85,"v":0.18},{"s":8.95,"v":0.17},{"s":9.05,"v":0.16},{"s":9.1,"v":0.1},{"s":9.15,"v":0.18},{"s":9.25,"v":0.16},{"s":9.3,"v":0.1},{"s":9.4,"v":0.17},{"s":9.5,"v":0.18},{"s":9.55,"v":0.3},{"s":9.6,"v":0.17},{"s":9.65,"v":0.4},{"s":9.7,"v":0.5},{"s":9.75,"v":0.2},{"s":9.8,"v":0.35},{"s":9.85,"v":0.6},{"s":9.9,"v":0.15},{"s":9.95,"v":0.1},{"s":10.05,"v":0.22},{"s":10.1,"v":0.16},{"s":10.2,"v":0.27},{"s":10.25,"v":0.16},{"s":10.35,"v":0.27},{"s":10.4,"v":0.13},{"s":10.5,"v":0.27},{"s":10.55,"v":0.16},{"s":10.65,"v":0.28},{"s":10.7,"v":0.15},{"s":10.8,"v":0.25},{"s":10.85,"v":0.16},{"s":10.95,"v":0.28},{"s":11.0,"v":0.16},{"s":11.1,"v":0.27},{"s":11.15,"v":0.17},{"s":11.25,"v":0.27},{"s":11.3,"v":0.18},{"s":11.4,"v":0.27},{"s":11.45,"v":0.22},{"s":11.9,"v":0.22},{"s":11.95,"v":0.27},{"s":12.0,"v":1.0},{"s":12.2,"v":1.0},{"s":12.22,"v":0.3},{"s":12.3,"v":0.3},{"s":12.35,"v":0.2},{"s":12.45,"v":0.31},{"s":12.5,"v":0.1},{"s":12.55,"v":0.55},{"s":12.6,"v":0.45},{"s":12.65,"v":0.1},{"s":12.75,"v":0.18},{"s":12.8,"v":0.1},{"s":12.85,"v":0.14},{"s":13.0,"v":0.12},{"s":13.05,"v":0.16},{"s":13.15,"v":0.11},{"s":13.3,"v":0.11},{"s":13.35,"v":0.2},{"s":13.45,"v":0.13},{"s":13.5,"v":0.22},{"s":13.55,"v":0.18},{"s":13.65,"v":0.34},{"s":13.7,"v":0.2},{"s":13.8,"v":0.34},{"s":13.85,"v":0.22},{"s":13.95,"v":0.35},{"s":14.0,"v":0.2},{"s":14.1,"v":0.3},{"s":14.15,"v":0.22},{"s":14.2,"v":0.55},{"s":14.25,"v":0.3},{"s":14.3,"v":0.4},{"s":14.35,"v":0.22},{"s":14.45,"v":1.0},{"s":14.5,"v":0.3},{"s":14.55,"v":0.45},{"s":14.6,"v":0.25},{"s":14.7,"v":0.56},{"s":14.75,"v":0.3},{"s":14.8,"v":0.5},{"s":14.85,"v":0.2},{"s":14.95,"v":0.5},{"s":15.0,"v":0.23},{"s":15.1,"v":0.35},{"s":15.15,"v":0.25},{"s":15.2,"v":0.33},{"s":15.25,"v":0.18},{"s":15.35,"v":0.5},{"s":15.4,"v":0.3},{"s":15.45,"v":0.48},{"s":15.55,"v":0.68},{"s":15.6,"v":0.45},{"s":15.65,"v":0.7},{"s":15.7,"v":0.55},{"s":15.75,"v":0.3},{"s":15.8,"v":0.3},{"s":15.85,"v":0.45},{"s":15.9,"v":0.25},{"s":15.95,"v":0.1},{"s":16.05,"v":0.1},{"s":16.1,"v":0.32},{"s":16.15,"v":0.12},{"s":16.2,"v":0.35},{"s":16.25,"v":0.13},{"s":16.3,"v":0.3},{"s":16.35,"v":0.15},{"s":16.45,"v":0.52},{"s":16.5,"v":0.2},{"s":16.55,"v":0.39},{"s":16.6,"v":0.17},{"s":16.7,"v":0.3},{"s":16.75,"v":0.1},{"s":16.8,"v":0.45},{"s":16.85,"v":0.15},{"s":16.9,"v":0.39},{"s":16.95,"v":0.2},{"s":17.0,"v":0.52},{"s":17.05,"v":0.12},{"s":17.15,"v":0.25},{"s":17.2,"v":0.1},{"s":17.3,"v":0.2},{"s":17.35,"v":0.13},{"s":17.5,"v":0.51},{"s":17.55,"v":0.3},{"s":17.6,"v":0.16},{"s":17.7,"v":0.3},{"s":17.75,"v":0.15},{"s":17.85,"v":0.24},{"s":17.95,"v":0.7},{"s":18.05,"v":0.69},{"s":18.1,"v":0.2},{"s":18.2,"v":0.13},{"s":18.3,"v":0.12},{"s":18.4,"v":0.17},{"s":18.5,"v":0.11},{"s":18.6,"v":0.12},{"s":18.7,"v":0.1},{"s":18.8,"v":0.18},{"s":18.9,"v":0.3},{"s":18.95,"v":0.3},{"s":19.0,"v":0.13},{"s":19.1,"v":0.17},{"s":19.2,"v":0.12},{"s":19.3,"v":0.3},{"s":19.35,"v":0.25},{"s":19.4,"v":0.12},{"s":19.5,"v":0.13},{"s":19.6,"v":0.1},{"s":19.8,"v":0.1},{"s":19.9,"v":0.12},{"s":20.05,"v":0.24},{"s":20.1,"v":0.1},{"s":20.3,"v":0.1},{"s":20.4,"v":0.2},{"s":20.5,"v":0.19},{"s":20.6,"v":0.12},{"s":20.7,"v":0.18},{"s":20.8,"v":0.1},{"s":20.9,"v":0.15},{"s":20.98,"v":1.0},{"s":21.15,"v":1.0},{"s":21.18,"v":0.24},{"s":21.25,"v":0.2},{"s":21.8,"v":0.2},{"s":21.85,"v":0.24},{"s":21.9,"v":0.15},{"s":22.0,"v":0.23},{"s":22.05,"v":0.13},{"s":22.1,"v":0.35},{"s":22.15,"v":0.2},{"s":22.25,"v":0.24},{"s":22.3,"v":0.13},{"s":22.4,"v":0.36},{"s":22.45,"v":0.15},{"s":22.55,"v":0.2},{"s":22.6,"v":0.1},{"s":22.75,"v":0.15},{"s":22.8,"v":0.1},{"s":22.95,"v":0.17},{"s":23.0,"v":0.1},{"s":23.2,"v":0.1},{"s":23.3,"v":0.17},{"s":23.4,"v":0.1},{"s":23.6,"v":0.1},{"s":23.7,"v":0.15},{"s":23.85,"v":0.25},{"s":23.9,"v":0.13},{"s":24.0,"v":0.1},{"s":24.1,"v":0.1},{"s":24.2,"v":0.2},{"s":24.25,"v":0.14},{"s":24.3,"v":0.22},{"s":24.4,"v":0.15},{"s":24.45,"v":0.26},{"s":24.5,"v":0.17},{"s":24.6,"v":0.27},{"s":24.65,"v":0.13},{"s":24.75,"v":0.25},{"s":24.8,"v":0.1},{"s":24.9,"v":0.14},{"s":25.0,"v":0.12},{"s":25.1,"v":0.1},{"s":25.3,"v":0.13},{"s":25.5,"v":0.1},{"s":25.6,"v":0.13},{"s":25.8,"v":0.14},{"s":26.0,"v":0.1},{"s":26.2,"v":0.14},{"s":26.35,"v":0.12},{"s":26.45,"v":0.23},{"s":26.5,"v":0.15},{"s":26.6,"v":0.12},{"s":26.7,"v":0.1},{"s":26.8,"v":0.15},{"s":26.9,"v":0.17},{"s":27.0,"v":0.12},{"s":27.1,"v":0.18},{"s":27.2,"v":0.13},{"s":27.3,"v":0.14},{"s":27.38,"v":0.42},{"s":27.42,"v":0.15},{"s":27.5,"v":0.12},{"s":27.6,"v":0.17},{"s":27.7,"v":0.12},{"s":27.8,"v":0.16},{"s":27.9,"v":0.1},{"s":28.1,"v":0.1},{"s":28.2,"v":0.17},{"s":28.3,"v":0.1},{"s":28.5,"v":0.1},{"s":28.6,"v":0.13},{"s":28.7,"v":0.1},{"s":28.85,"v":0.16},{"s":28.9,"v":0.1},{"s":29.0,"v":0.2},{"s":29.1,"v":0.14},{"s":29.2,"v":0.26},{"s":29.25,"v":0.15},{"s":29.35,"v":0.2},{"s":29.45,"v":0.13},{"s":29.5,"v":0.18},{"s":29.6,"v":0.1},{"s":29.7,"v":0.16},{"s":29.8,"v":0.13},{"s":29.9,"v":0.19},{"s":30.0,"v":0.12},{"s":30.1,"v":0.2},{"s":30.2,"v":0.13},{"s":30.3,"v":0.15},{"s":30.4,"v":0.11},{"s":30.5,"v":0.19},{"s":30.55,"v":0.41},{"s":30.6,"v":0.15},{"s":30.7,"v":0.19},{"s":30.8,"v":0.12},{"s":30.9,"v":0.18},{"s":31.0,"v":0.13},{"s":31.1,"v":0.19},{"s":31.2,"v":0.12},{"s":31.3,"v":0.18},{"s":31.4,"v":0.1},{"s":31.55,"v":0.2},{"s":31.6,"v":0.14},{"s":31.7,"v":0.18},{"s":31.8,"v":0.13},{"s":31.9,"v":0.19},{"s":32.0,"v":0.12},{"s":32.05,"v":0.22},{"s":32.1,"v":0.18},{"s":32.15,"v":0.63},{"s":32.2,"v":0.45},{"s":32.25,"v":0.2},{"s":32.3,"v":0.28},{"s":32.35,"v":0.15},{"s":32.45,"v":0.27},{"s":32.5,"v":0.15},{"s":32.6,"v":0.2},{"s":32.7,"v":0.11},{"s":32.8,"v":0.2},{"s":32.9,"v":0.13},{"s":33.0,"v":0.15},{"s":33.1,"v":0.12},{"s":33.25,"v":0.18},{"s":33.35,"v":0.13},{"s":33.5,"v":0.13},{"s":33.6,"v":0.12},{"s":33.75,"v":0.14},{"s":33.9,"v":0.13},{"s":34.0,"v":0.14},{"s":34.05,"v":1.0},{"s":34.22,"v":1.0},{"s":34.25,"v":0.57},{"s":34.3,"v":0.3},{"s":34.35,"v":0.25},{"s":34.45,"v":0.4},{"s":34.5,"v":0.15},{"s":34.55,"v":0.12},{"s":34.65,"v":0.2},{"s":34.75,"v":0.15},{"s":34.85,"v":0.41},{"s":34.9,"v":0.25},{"s":34.95,"v":0.36},{"s":35.0,"v":0.15},{"s":35.1,"v":0.12},{"s":35.2,"v":0.17},{"s":35.3,"v":0.12},{"s":35.4,"v":0.16},{"s":35.5,"v":0.12},{"s":35.6,"v":0.17},{"s":35.7,"v":0.13},{"s":35.8,"v":0.23},{"s":35.9,"v":0.19},{"s":36,"v":0.22}],
"gear": [{"s":0,"v":1.0},{"s":1.53,"v":1.4},{"s":1.72,"v":0.583},{"s":2.53,"v":0.714},{"s":2.58,"v":0.583},{"s":3.05,"v":0.714},{"s":3.1,"v":0.583},{"s":3.4,"v":1.0},{"s":3.45,"v":0.583},{"s":9.65,"v":0.714},{"s":9.68,"v":0.583},{"s":9.72,"v":0.714},{"s":9.78,"v":0.583},{"s":9.82,"v":0.714},{"s":9.9,"v":0.583},{"s":12.0,"v":1.0},{"s":12.12,"v":0.714},{"s":12.14,"v":1.0},{"s":12.2,"v":0.714},{"s":12.25,"v":0.583},{"s":12.58,"v":0.714},{"s":12.63,"v":0.583},{"s":14.22,"v":0.714},{"s":14.3,"v":0.583},{"s":14.33,"v":0.714},{"s":14.42,"v":1.0},{"s":14.48,"v":0.583},{"s":14.52,"v":0.714},{"s":14.56,"v":0.583},{"s":14.75,"v":0.714},{"s":14.8,"v":0.583},{"s":15.6,"v":0.714},{"s":15.75,"v":1.0},{"s":15.82,"v":0.714},{"s":15.98,"v":0.583},{"s":16.75,"v":0.714},{"s":17.02,"v":1.0},{"s":17.07,"v":0.714},{"s":17.63,"v":1.0},{"s":17.68,"v":0.714},{"s":18.07,"v":1.4},{"s":18.15,"v":0.714},{"s":20.97,"v":1.4},{"s":21.15,"v":0.583},{"s":22.68,"v":0.714},{"s":32.2,"v":1.4},{"s":32.25,"v":1.0},{"s":34.03,"v":1.4},{"s":34.25,"v":0.714},{"s":34.3,"v":0.583},{"s":36,"v":0.583}],
"tq": [{"s":0,"v":35},{"s":0.55,"v":35},{"s":0.58,"v":140},{"s":0.62,"v":30},{"s":0.68,"v":0},{"s":0.75,"v":50},{"s":0.8,"v":20},{"s":0.85,"v":140},{"s":0.9,"v":20},{"s":0.95,"v":85},{"s":1.0,"v":30},{"s":1.1,"v":30},{"s":1.15,"v":85},{"s":1.2,"v":20},{"s":1.3,"v":85},{"s":1.35,"v":25},{"s":1.45,"v":35},{"s":1.48,"v":240},{"s":1.52,"v":300},{"s":1.58,"v":280},{"s":1.62,"v":220},{"s":1.66,"v":260},{"s":1.7,"v":200},{"s":1.74,"v":360},{"s":1.78,"v":220},{"s":1.82,"v":280},{"s":1.86,"v":150},{"s":1.9,"v":30},{"s":1.93,"v":230},{"s":1.97,"v":100},{"s":2.02,"v":190},{"s":2.06,"v":125},{"s":2.5,"v":125},{"s":2.55,"v":280},{"s":2.6,"v":125},{"s":2.65,"v":50},{"s":2.7,"v":220},{"s":2.75,"v":130},{"s":2.85,"v":125},{"s":2.95,"v":130},{"s":3.0,"v":0},{"s":3.05,"v":40},{"s":3.1,"v":0},{"s":3.15,"v":250},{"s":3.2,"v":0},{"s":3.3,"v":40},{"s":3.35,"v":0},{"s":3.45,"v":265},{"s":3.5,"v":30},{"s":3.6,"v":0},{"s":3.65,"v":180},{"s":3.7,"v":95},{"s":3.8,"v":120},{"s":3.9,"v":0},{"s":3.95,"v":180},{"s":4.0,"v":90},{"s":4.1,"v":195},{"s":4.15,"v":95},{"s":4.25,"v":170},{"s":4.3,"v":90},{"s":4.4,"v":180},{"s":4.45,"v":70},{"s":4.55,"v":185},{"s":4.6,"v":90},{"s":4.7,"v":180},{"s":4.75,"v":75},{"s":4.85,"v":185},{"s":4.9,"v":90},{"s":5.0,"v":180},{"s":5.05,"v":95},{"s":5.15,"v":185},{"s":5.2,"v":70},{"s":5.3,"v":180},{"s":5.35,"v":95},{"s":5.45,"v":170},{"s":5.5,"v":90},{"s":5.6,"v":180},{"s":5.65,"v":95},{"s":5.75,"v":0},{"s":5.8,"v":100},{"s":5.9,"v":200},{"s":5.95,"v":90},{"s":6.05,"v":150},{"s":6.1,"v":95},{"s":6.2,"v":120},{"s":6.25,"v":268},{"s":6.3,"v":100},{"s":6.4,"v":180},{"s":6.45,"v":90},{"s":6.55,"v":185},{"s":6.6,"v":5},{"s":6.65,"v":90},{"s":6.75,"v":180},{"s":6.8,"v":70},{"s":6.9,"v":185},{"s":6.95,"v":95},{"s":7.05,"v":180},{"s":7.1,"v":70},{"s":7.2,"v":185},{"s":7.25,"v":90},{"s":7.35,"v":160},{"s":7.4,"v":5},{"s":7.5,"v":185},{"s":7.55,"v":80},{"s":7.65,"v":180},{"s":7.7,"v":268},{"s":7.75,"v":100},{"s":7.85,"v":180},{"s":7.9,"v":0},{"s":8.0,"v":180},{"s":8.05,"v":70},{"s":8.15,"v":150},{"s":8.2,"v":0},{"s":8.3,"v":130},{"s":8.4,"v":150},{"s":8.5,"v":155},{"s":8.55,"v":70},{"s":8.65,"v":170},{"s":8.7,"v":0},{"s":8.8,"v":100},{"s":8.85,"v":70},{"s":8.95,"v":110},{"s":9.0,"v":0},{"s":9.1,"v":110},{"s":9.15,"v":60},{"s":9.25,"v":0},{"s":9.3,"v":110},{"s":9.4,"v":90},{"s":9.45,"v":200},{"s":9.5,"v":100},{"s":9.55,"v":250},{"s":9.6,"v":160},{"s":9.65,"v":270},{"s":9.7,"v":120},{"s":9.75,"v":275},{"s":9.8,"v":100},{"s":9.85,"v":285},{"s":9.9,"v":70},{"s":9.95,"v":130},{"s":10.0,"v":0},{"s":10.05,"v":180},{"s":10.1,"v":70},{"s":10.2,"v":175},{"s":10.25,"v":65},{"s":10.35,"v":180},{"s":10.4,"v":70},{"s":10.5,"v":175},{"s":10.55,"v":65},{"s":10.65,"v":180},{"s":10.7,"v":70},{"s":10.8,"v":185},{"s":10.85,"v":75},{"s":10.95,"v":180},{"s":11.0,"v":70},{"s":11.1,"v":175},{"s":11.15,"v":65},{"s":11.25,"v":185},{"s":11.3,"v":70},{"s":11.4,"v":180},{"s":11.45,"v":160},{"s":11.5,"v":70},{"s":11.6,"v":180},{"s":11.65,"v":155},{"s":11.75,"v":155},{"s":11.8,"v":70},{"s":11.85,"v":240},{"s":11.9,"v":130},{"s":11.95,"v":270},{"s":12.0,"v":200},{"s":12.05,"v":300},{"s":12.1,"v":240},{"s":12.15,"v":305},{"s":12.2,"v":180},{"s":12.25,"v":300},{"s":12.3,"v":250},{"s":12.35,"v":300},{"s":12.4,"v":190},{"s":12.45,"v":200},{"s":12.5,"v":0},{"s":12.55,"v":200},{"s":12.6,"v":60},{"s":12.65,"v":130},{"s":12.7,"v":0},{"s":12.75,"v":140},{"s":12.8,"v":40},{"s":12.85,"v":100},{"s":12.9,"v":0},{"s":12.95,"v":130},{"s":13.0,"v":0},{"s":13.45,"v":0},{"s":13.5,"v":135},{"s":13.55,"v":60},{"s":13.6,"v":150},{"s":13.65,"v":100},{"s":13.7,"v":140},{"s":13.75,"v":100},{"s":13.8,"v":245},{"s":13.85,"v":120},{"s":13.9,"v":200},{"s":13.95,"v":100},{"s":14.0,"v":250},{"s":14.05,"v":110},{"s":14.1,"v":270},{"s":14.15,"v":100},{"s":14.2,"v":270},{"s":14.25,"v":150},{"s":14.3,"v":200},{"s":14.35,"v":100},{"s":14.4,"v":280},{"s":14.45,"v":150},{"s":14.5,"v":250},{"s":14.55,"v":365},{"s":14.6,"v":100},{"s":14.65,"v":250},{"s":14.7,"v":180},{"s":14.75,"v":280},{"s":14.8,"v":120},{"s":14.85,"v":250},{"s":14.9,"v":100},{"s":14.95,"v":260},{"s":15.0,"v":200},{"s":15.05,"v":120},{"s":15.1,"v":250},{"s":15.15,"v":60},{"s":15.2,"v":25},{"s":15.25,"v":180},{"s":15.3,"v":100},{"s":15.35,"v":275},{"s":15.4,"v":200},{"s":15.45,"v":280},{"s":15.5,"v":150},{"s":15.55,"v":275},{"s":15.6,"v":200},{"s":15.65,"v":290},{"s":15.7,"v":160},{"s":15.75,"v":280},{"s":15.8,"v":200},{"s":15.85,"v":300},{"s":15.9,"v":330},{"s":15.95,"v":200},{"s":16.0,"v":170},{"s":16.05,"v":280},{"s":16.1,"v":150},{"s":16.15,"v":250},{"s":16.2,"v":210},{"s":16.3,"v":150},{"s":16.35,"v":220},{"s":16.4,"v":0},{"s":16.45,"v":150},{"s":16.5,"v":150},{"s":16.55,"v":210},{"s":16.6,"v":100},{"s":16.65,"v":250},{"s":16.7,"v":252},{"s":16.75,"v":120},{"s":16.8,"v":250},{"s":16.85,"v":80},{"s":16.9,"v":225},{"s":16.95,"v":200},{"s":17.0,"v":240},{"s":17.05,"v":275},{"s":17.1,"v":150},{"s":17.15,"v":200},{"s":17.2,"v":60},{"s":17.25,"v":150},{"s":17.3,"v":0},{"s":17.35,"v":60},{"s":17.4,"v":160},{"s":17.45,"v":80},{"s":17.5,"v":200},{"s":17.55,"v":260},{"s":17.6,"v":150},{"s":17.65,"v":220},{"s":17.7,"v":60},{"s":17.75,"v":180},{"s":17.8,"v":150},{"s":17.85,"v":100},{"s":17.9,"v":230},{"s":17.95,"v":150},{"s":18.0,"v":280},{"s":18.05,"v":295},{"s":18.1,"v":150},{"s":18.2,"v":150},{"s":18.25,"v":0},{"s":18.35,"v":0},{"s":18.45,"v":40},{"s":18.55,"v":10},{"s":18.65,"v":145},{"s":18.7,"v":60},{"s":18.78,"v":0},{"s":18.85,"v":90},{"s":18.95,"v":130},{"s":19.05,"v":190},{"s":19.1,"v":100},{"s":19.15,"v":130},{"s":19.25,"v":130},{"s":19.3,"v":170},{"s":19.35,"v":100},{"s":19.45,"v":195},{"s":19.5,"v":80},{"s":19.58,"v":0},{"s":19.65,"v":0},{"s":19.75,"v":10},{"s":19.8,"v":5},{"s":19.9,"v":0},{"s":20.0,"v":15},{"s":20.05,"v":0},{"s":20.15,"v":30},{"s":20.23,"v":160},{"s":20.3,"v":60},{"s":20.39,"v":0},{"s":20.45,"v":60},{"s":20.55,"v":130},{"s":20.62,"v":145},{"s":20.7,"v":0},{"s":20.78,"v":120},{"s":20.85,"v":120},{"s":20.9,"v":40},{"s":20.97,"v":110},{"s":21.0,"v":290},{"s":21.05,"v":250},{"s":21.1,"v":270},{"s":21.15,"v":230},{"s":21.2,"v":300},{"s":21.24,"v":345},{"s":21.28,"v":260},{"s":21.33,"v":145},{"s":21.4,"v":125},{"s":21.87,"v":125},{"s":21.9,"v":150},{"s":21.95,"v":45},{"s":22.0,"v":140},{"s":22.05,"v":50},{"s":22.1,"v":130},{"s":22.15,"v":100},{"s":22.2,"v":130},{"s":22.25,"v":60},{"s":22.3,"v":210},{"s":22.35,"v":100},{"s":22.4,"v":150},{"s":22.45,"v":230},{"s":22.5,"v":100},{"s":22.55,"v":230},{"s":22.6,"v":150},{"s":22.65,"v":60},{"s":22.68,"v":0},{"s":22.75,"v":0},{"s":22.8,"v":80},{"s":22.85,"v":0},{"s":22.9,"v":140},{"s":22.95,"v":90},{"s":23.0,"v":110},{"s":23.05,"v":0},{"s":23.1,"v":110},{"s":23.15,"v":100},{"s":23.2,"v":70},{"s":23.3,"v":60},{"s":23.37,"v":0},{"s":23.45,"v":0},{"s":23.5,"v":60},{"s":23.55,"v":0},{"s":23.6,"v":0},{"s":23.7,"v":70},{"s":23.8,"v":60},{"s":23.85,"v":0},{"s":23.94,"v":170},{"s":24.0,"v":40},{"s":24.05,"v":100},{"s":24.1,"v":20},{"s":24.2,"v":20},{"s":24.25,"v":80},{"s":24.3,"v":90},{"s":24.35,"v":150},{"s":24.4,"v":60},{"s":24.45,"v":170},{"s":24.5,"v":80},{"s":24.55,"v":175},{"s":24.6,"v":60},{"s":24.7,"v":120},{"s":24.75,"v":80},{"s":24.8,"v":190},{"s":24.85,"v":120},{"s":24.9,"v":180},{"s":24.95,"v":80},{"s":25.0,"v":100},{"s":25.05,"v":20},{"s":25.09,"v":0},{"s":25.15,"v":90},{"s":25.2,"v":175},{"s":25.25,"v":60},{"s":25.3,"v":90},{"s":25.35,"v":40},{"s":25.4,"v":80},{"s":25.45,"v":30},{"s":25.5,"v":60},{"s":25.55,"v":70},{"s":25.6,"v":10},{"s":25.66,"v":70},{"s":25.75,"v":0},{"s":25.95,"v":0},{"s":26.0,"v":60},{"s":26.05,"v":40},{"s":26.12,"v":60},{"s":26.2,"v":55},{"s":26.3,"v":65},{"s":26.35,"v":40},{"s":26.4,"v":65},{"s":26.45,"v":20},{"s":26.5,"v":130},{"s":26.57,"v":169},{"s":26.62,"v":60},{"s":26.7,"v":100},{"s":26.75,"v":20},{"s":26.8,"v":50},{"s":26.9,"v":0},{"s":27.0,"v":0},{"s":27.05,"v":20},{"s":27.1,"v":100},{"s":27.15,"v":120},{"s":27.2,"v":40},{"s":27.25,"v":80},{"s":27.3,"v":50},{"s":27.37,"v":252},{"s":27.42,"v":90},{"s":27.5,"v":60},{"s":27.55,"v":170},{"s":27.6,"v":130},{"s":27.65,"v":30},{"s":27.7,"v":60},{"s":27.75,"v":10},{"s":27.83,"v":60},{"s":27.9,"v":10},{"s":27.95,"v":70},{"s":28.0,"v":0},{"s":28.05,"v":60},{"s":28.1,"v":20},{"s":28.18,"v":55},{"s":28.25,"v":0},{"s":28.45,"v":0},{"s":28.5,"v":10},{"s":28.55,"v":40},{"s":28.63,"v":130},{"s":28.7,"v":30},{"s":28.75,"v":120},{"s":28.8,"v":80},{"s":28.86,"v":0},{"s":29.05,"v":0},{"s":29.1,"v":30},{"s":29.15,"v":60},{"s":29.2,"v":10},{"s":29.25,"v":50},{"s":29.3,"v":120},{"s":29.35,"v":60},{"s":29.39,"v":186},{"s":29.45,"v":100},{"s":29.5,"v":160},{"s":29.55,"v":40},{"s":29.6,"v":140},{"s":29.65,"v":80},{"s":29.7,"v":30},{"s":29.78,"v":0},{"s":29.85,"v":100},{"s":29.9,"v":50},{"s":29.95,"v":120},{"s":30.0,"v":30},{"s":30.05,"v":140},{"s":30.1,"v":70},{"s":30.15,"v":80},{"s":30.2,"v":20},{"s":30.25,"v":150},{"s":30.3,"v":80},{"s":30.35,"v":165},{"s":30.4,"v":30},{"s":30.45,"v":130},{"s":30.5,"v":60},{"s":30.55,"v":90},{"s":30.6,"v":20},{"s":30.65,"v":140},{"s":30.7,"v":249},{"s":30.75,"v":60},{"s":30.8,"v":40},{"s":30.85,"v":130},{"s":30.9,"v":60},{"s":30.95,"v":150},{"s":31.0,"v":70},{"s":31.04,"v":130},{"s":31.1,"v":0},{"s":31.15,"v":120},{"s":31.2,"v":60},{"s":31.25,"v":140},{"s":31.3,"v":50},{"s":31.35,"v":150},{"s":31.4,"v":30},{"s":31.45,"v":130},{"s":31.5,"v":100},{"s":31.55,"v":0},{"s":31.6,"v":110},{"s":31.65,"v":60},{"s":31.73,"v":170},{"s":31.8,"v":120},{"s":31.85,"v":130},{"s":31.9,"v":50},{"s":31.95,"v":160},{"s":32.0,"v":120},{"s":32.07,"v":208},{"s":32.12,"v":100},{"s":32.17,"v":240},{"s":32.23,"v":295},{"s":32.28,"v":140},{"s":32.33,"v":170},{"s":32.4,"v":120},{"s":32.45,"v":170},{"s":32.5,"v":60},{"s":32.58,"v":50},{"s":32.65,"v":60},{"s":32.7,"v":50},{"s":32.75,"v":0},{"s":32.8,"v":30},{"s":32.9,"v":0},{"s":32.95,"v":45},{"s":33.0,"v":0},{"s":33.05,"v":50},{"s":33.15,"v":50},{"s":33.25,"v":0},{"s":33.33,"v":140},{"s":33.4,"v":40},{"s":33.45,"v":120},{"s":33.5,"v":0},{"s":33.55,"v":50},{"s":33.8,"v":50},{"s":33.85,"v":0},{"s":33.9,"v":50},{"s":33.95,"v":300},{"s":34.02,"v":300},{"s":34.07,"v":260},{"s":34.12,"v":280},{"s":34.17,"v":240},{"s":34.22,"v":320},{"s":34.25,"v":345},{"s":34.3,"v":250},{"s":34.35,"v":200},{"s":34.4,"v":190},{"s":34.45,"v":150},{"s":34.5,"v":100},{"s":34.55,"v":200},{"s":34.6,"v":0},{"s":34.65,"v":180},{"s":34.71,"v":255},{"s":34.75,"v":60},{"s":34.8,"v":0},{"s":34.95,"v":0},{"s":35.0,"v":100},{"s":35.05,"v":120},{"s":35.1,"v":70},{"s":35.16,"v":240},{"s":35.2,"v":100},{"s":35.25,"v":150},{"s":35.3,"v":50},{"s":35.35,"v":80},{"s":35.4,"v":40},{"s":35.45,"v":50},{"s":35.5,"v":0},{"s":35.55,"v":70},{"s":35.6,"v":0},{"s":35.65,"v":70},{"s":35.7,"v":50},{"s":35.78,"v":75},{"s":35.85,"v":0},{"s":35.9,"v":100},{"s":35.96,"v":140},{"s":36,"v":135}],
"brk": [{"s":0,"v":0},{"s":0.62,"v":0},{"s":0.64,"v":2.8},{"s":0.7,"v":2.8},{"s":0.72,"v":0},{"s":2.95,"v":0},{"s":2.98,"v":17},{"s":3.03,"v":17},{"s":3.05,"v":2},{"s":3.1,"v":1.5},{"s":3.15,"v":2},{"s":3.2,"v":1},{"s":3.25,"v":1.4},{"s":3.3,"v":0.8},{"s":3.35,"v":1.3},{"s":3.45,"v":0.3},{"s":3.5,"v":0},{"s":3.95,"v":0},{"s":3.97,"v":1.8},{"s":4.02,"v":1.8},{"s":4.05,"v":0},{"s":4.4,"v":0},{"s":4.45,"v":0.15},{"s":4.5,"v":0},{"s":8.15,"v":0},{"s":8.2,"v":0.2},{"s":8.3,"v":0},{"s":8.6,"v":0},{"s":8.65,"v":0.15},{"s":8.7,"v":0},{"s":12.45,"v":0},{"s":12.5,"v":1.2},{"s":12.55,"v":0.9},{"s":12.6,"v":1.1},{"s":12.65,"v":0.2},{"s":12.7,"v":1.0},{"s":12.75,"v":0.7},{"s":12.8,"v":0},{"s":13.05,"v":0},{"s":13.1,"v":0.7},{"s":13.15,"v":0.8},{"s":13.2,"v":0},{"s":13.25,"v":0},{"s":13.28,"v":6.8},{"s":13.33,"v":6.7},{"s":13.36,"v":4},{"s":13.4,"v":3},{"s":13.43,"v":0},{"s":15.98,"v":0},{"s":16.0,"v":20.3},{"s":16.08,"v":20.3},{"s":16.1,"v":0},{"s":16.85,"v":0},{"s":16.9,"v":1.2},{"s":16.95,"v":2.2},{"s":17.0,"v":2.0},{"s":17.05,"v":0.5},{"s":17.1,"v":2.3},{"s":17.15,"v":1.8},{"s":17.2,"v":0.3},{"s":17.3,"v":1.0},{"s":17.35,"v":3.4},{"s":17.45,"v":3.3},{"s":17.5,"v":1.0},{"s":17.55,"v":0},{"s":18.35,"v":0},{"s":18.4,"v":0.4},{"s":18.5,"v":0.6},{"s":18.55,"v":0.2},{"s":18.6,"v":3.0},{"s":18.65,"v":3.7},{"s":18.7,"v":3.5},{"s":18.75,"v":1.5},{"s":18.8,"v":3.4},{"s":18.9,"v":3.3},{"s":18.95,"v":0},{"s":19.65,"v":0},{"s":19.7,"v":1.5},{"s":19.75,"v":2.0},{"s":19.8,"v":1.2},{"s":19.85,"v":2.0},{"s":19.9,"v":0.5},{"s":19.95,"v":3.5},{"s":20.05,"v":3.3},{"s":20.1,"v":1.0},{"s":20.2,"v":2.5},{"s":20.25,"v":2.4},{"s":20.3,"v":0.8},{"s":20.45,"v":1.8},{"s":20.5,"v":1.7},{"s":20.55,"v":0.2},{"s":20.8,"v":0.6},{"s":20.9,"v":0.4},{"s":20.95,"v":0},{"s":22.25,"v":0},{"s":22.3,"v":0.3},{"s":22.4,"v":0},{"s":22.5,"v":0},{"s":22.52,"v":20.3},{"s":22.58,"v":20.3},{"s":22.6,"v":0},{"s":22.9,"v":0},{"s":22.95,"v":2.0},{"s":23.0,"v":2.4},{"s":23.05,"v":2.2},{"s":23.1,"v":0},{"s":23.25,"v":0},{"s":23.3,"v":1.0},{"s":23.38,"v":0.9},{"s":23.42,"v":0},{"s":23.48,"v":0.5},{"s":23.5,"v":2.0},{"s":23.58,"v":2.2},{"s":23.62,"v":3.9},{"s":23.68,"v":3.7},{"s":23.72,"v":1.0},{"s":23.78,"v":0},{"s":24.05,"v":0},{"s":24.1,"v":2.3},{"s":24.15,"v":2.5},{"s":24.2,"v":2.3},{"s":24.25,"v":2.5},{"s":24.3,"v":0},{"s":25.3,"v":0},{"s":25.35,"v":2.4},{"s":25.42,"v":2.3},{"s":25.45,"v":0},{"s":25.6,"v":0},{"s":25.65,"v":1.0},{"s":25.8,"v":0.9},{"s":25.85,"v":2.1},{"s":25.95,"v":2.1},{"s":26.0,"v":0},{"s":26.35,"v":0},{"s":26.38,"v":2.6},{"s":26.45,"v":2.5},{"s":26.5,"v":0},{"s":26.7,"v":0},{"s":26.72,"v":2.6},{"s":26.8,"v":2.5},{"s":26.85,"v":0},{"s":27.45,"v":0},{"s":27.5,"v":0.8},{"s":27.6,"v":0.7},{"s":27.65,"v":0},{"s":28.1,"v":0},{"s":28.15,"v":2.5},{"s":28.25,"v":2.3},{"s":28.3,"v":0.5},{"s":28.4,"v":2.0},{"s":28.5,"v":1.8},{"s":28.55,"v":0.5},{"s":28.7,"v":0.6},{"s":28.75,"v":2.5},{"s":28.85,"v":2.3},{"s":28.95,"v":1.0},{"s":29.0,"v":5.2},{"s":29.05,"v":5.0},{"s":29.1,"v":1.0},{"s":29.2,"v":0.8},{"s":29.3,"v":0.7},{"s":29.35,"v":0},{"s":29.75,"v":0},{"s":29.8,"v":0.8},{"s":29.95,"v":0.7},{"s":30.0,"v":0},{"s":30.1,"v":0},{"s":30.15,"v":0.7},{"s":30.25,"v":0.6},{"s":30.3,"v":0},{"s":30.9,"v":0},{"s":30.95,"v":0.8},{"s":31.0,"v":0},{"s":31.15,"v":0},{"s":31.2,"v":0.7},{"s":31.25,"v":0},{"s":31.5,"v":0},{"s":31.52,"v":0.6},{"s":31.6,"v":0},{"s":31.72,"v":0},{"s":31.75,"v":1.0},{"s":31.8,"v":0},{"s":32.05,"v":0},{"s":32.1,"v":0.2},{"s":32.2,"v":0},{"s":32.6,"v":0},{"s":32.65,"v":0.8},{"s":32.85,"v":0.7},{"s":32.9,"v":0},{"s":33.0,"v":0},{"s":33.05,"v":2.0},{"s":33.1,"v":2.5},{"s":33.2,"v":2.3},{"s":33.25,"v":0.6},{"s":33.4,"v":0.8},{"s":33.5,"v":0},{"s":33.7,"v":0},{"s":33.75,"v":0.8},{"s":33.9,"v":0.8},{"s":33.95,"v":4.2},{"s":34.0,"v":4.0},{"s":34.05,"v":0.7},{"s":34.25,"v":0.6},{"s":34.35,"v":0.5},{"s":34.4,"v":0},{"s":34.7,"v":0},{"s":34.75,"v":4.1},{"s":34.8,"v":3.5},{"s":34.85,"v":1.5},{"s":34.9,"v":2.5},{"s":34.95,"v":0.3},{"s":35.1,"v":0.3},{"s":35.15,"v":0},{"s":35.4,"v":0},{"s":35.45,"v":2.0},{"s":35.5,"v":3.3},{"s":35.55,"v":3.2},{"s":35.6,"v":1.0},{"s":35.7,"v":0.5},{"s":35.8,"v":0.4},{"s":35.85,"v":0},{"s":36,"v":0}]
}
}
